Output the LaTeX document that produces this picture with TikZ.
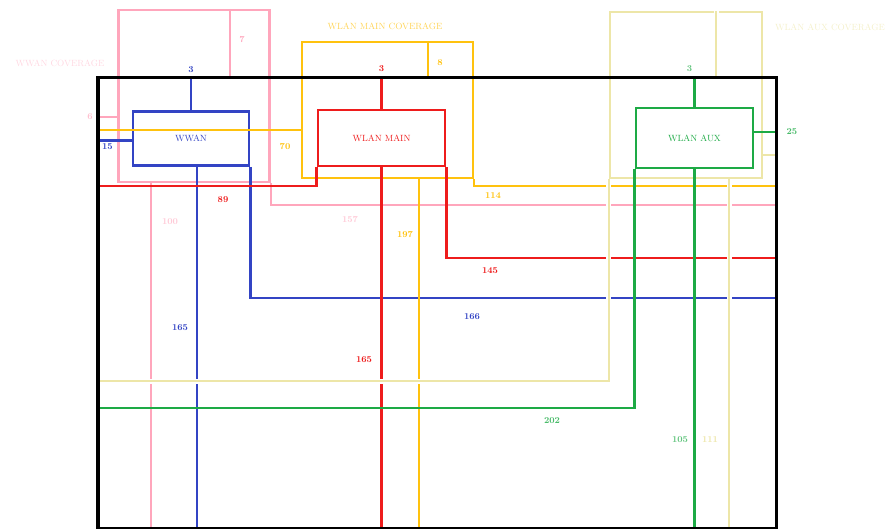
\documentclass[tikz,border=0pt]{standalone}
\usepackage{tikz}
\usetikzlibrary{positioning,calc}
\definecolor{wwanblue}{HTML}{3344C4}
\definecolor{mainred}{HTML}{EE1C1C}
\definecolor{auxgreen}{HTML}{1DAA45}
\definecolor{covpink}{HTML}{FFA6BC}
\definecolor{covyellow}{HTML}{FFC20E}
\definecolor{covpale}{HTML}{EDE6A8}

\tikzset{
  radio/.style={draw, line width=2.6pt, font=\small, inner sep=0pt},
  cover/.style={draw, line width=2.2pt, inner sep=0pt},
  wire/.style={line width=2.6pt},
  palewire/.style={covpale, line width=2.2pt, preaction={draw=white, line width=5pt}},
  lbl/.style={font=\small\bfseries, inner sep=1pt}
}

\begin{document}
\begin{tikzpicture}[x=1pt, y=-1pt]
\useasboundingbox (0,0) rectangle (893,529);

% outline of the case (drawn at the end)
\node[minimum width=678, minimum height=450, inner sep=0pt] (house) at (437,303) {};

% coverage areas
\node[cover, covpink, minimum width=151, minimum height=172] (cpink) at (194,96) {};
\node[cover, covyellow, minimum width=171, minimum height=136] (cyel) at (387.5,110) {};
\node[cover, covpale, minimum width=152, minimum height=166] (cpale) at (686,95) {};

% radios
\node[radio, wwanblue, minimum width=116, minimum height=54] (wwan) at (191,138.5) {WWAN};
\node[radio, mainred, minimum width=127, minimum height=56] (wlanmain) at (381.5,138) {WLAN MAIN};
\node[radio, auxgreen, minimum width=117, minimum height=60] (wlanaux) at (694.5,138) {WLAN AUX};

% captions
\node[covpink!45, font=\small] (tpink) at (60,63) {WWAN COVERAGE};
\node[covyellow!70, font=\small] (tyel) at (385,26) {WLAN MAIN COVERAGE};
\node[covpale!60, font=\small] (tpale) at (830,27) {WLAN AUX COVERAGE};

% WWAN coverage
\draw[wire, covpink, line width=2.2pt] (cpink.north -| 230,0) -- (230,0 |- house.north);
\draw[wire, covpink, line width=2.2pt] (cpink.west |- 0,117) -- (house.west |- 0,117);
\draw[wire, covpink, line width=2.2pt] ([xshift=-43pt]cpink.south) -- ([xshift=-43pt]cpink.south |- house.south);
\draw[wire, covpink, line width=2.2pt] (cpink.south east) |- (house.east |- 0,205);
\node[lbl, covpink] at (242,40) {7};
\node[lbl, covpink!70] at (90,117) {6};
\node[lbl, covpink!60] at (170,222) {100};
\node[lbl, covpink!60] at (350,220) {157};

% WWAN
\draw[wire, wwanblue] (wwan.north) -- (wwan.north |- house.north) node[lbl, above=3pt] {3};
\draw[wire, wwanblue] ([yshift=-2pt]wwan.west) -- ([yshift=-2pt]wwan.west -| house.west) node[lbl, below right=1pt and 2pt] {15};
\draw[wire, wwanblue] ([xshift=6pt]wwan.south) -- ([xshift=6pt]wwan.south |- house.south);
\draw[wire, wwanblue] (wwan.south east) |- (house.east |- 0,298);
\node[lbl, wwanblue] at (180,328) {165};
\node[lbl, wwanblue] at (472,317) {166};

% WLAN MAIN
\draw[wire, mainred] (wlanmain.north) -- (wlanmain.north |- house.north) node[lbl, above=4pt] {3};
\draw[wire, mainred] (wlanmain.south west) |- (house.west |- 0,186);
\draw[wire, mainred] (wlanmain.south) -- (wlanmain.south |- house.south);
\draw[wire, mainred] (wlanmain.south east) |- (house.east |- 0,258);
\node[lbl, mainred] at (223,200) {89};
\node[lbl, mainred] at (364,360) {165};
\node[lbl, mainred] at (490,271) {145};

% WLAN MAIN coverage
\draw[wire, covyellow] (cyel.north -| 428,0) -- (428,0 |- house.north);
\draw[wire, covyellow] (cyel.west |- 0,130) -- (house.west |- 0,130);
\draw[wire, covyellow] ([xshift=31.5pt]cyel.south) -- ([xshift=31.5pt]cyel.south |- house.south);
\draw[wire, covyellow] (cyel.south east) |- (house.east |- 0,186);
\node[lbl, covyellow] at (440,63) {8};
\node[lbl, covyellow] at (285,147) {70};
\node[lbl, covyellow] at (405,235) {197};
\node[lbl, covyellow] at (493,196) {114};

% WLAN AUX
\draw[wire, auxgreen] (wlanaux.north) -- (wlanaux.north |- house.north) node[lbl, auxgreen!70, above=4pt, xshift=-5pt] {3};
\draw[wire, auxgreen] ([yshift=6pt]wlanaux.east) -- ([yshift=6pt]wlanaux.east -| house.east) node[lbl, auxgreen!80, right=8pt] {25};
\draw[wire, auxgreen] (wlanaux.south west) |- (house.west |- 0,408);
\draw[wire, auxgreen] (wlanaux.south) -- (wlanaux.south |- house.south);
\node[lbl, auxgreen!80] at (552,421) {202};
\node[lbl, auxgreen!70] at (680,440) {105};

% WLAN AUX coverage
\draw[palewire] (cpale.north -| 716,0) -- (716,0 |- house.north);
\draw[palewire] (cpale.east |- 0,155) -- (house.east |- 0,155);
\draw[palewire] (cpale.south west) |- (house.west |- 0,381);
\draw[palewire] ([xshift=43pt]cpale.south) -- ([xshift=43pt]cpale.south |- house.south);
\node[lbl, covpale] at (710,440) {111};

% case outline on top
\draw[line width=3.4pt] (house.north west) rectangle (house.south east);
\end{tikzpicture}
\end{document}
